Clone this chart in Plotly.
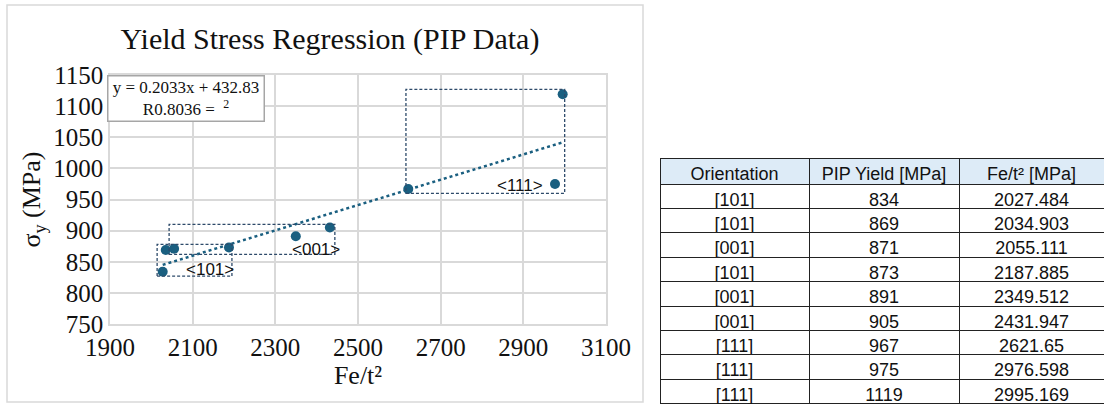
import plotly.graph_objects as go

# ---- data ----
orientation = ["[101]", "[101]", "[001]", "[101]", "[001]", "[001]", "[111]", "[111]", "[111]"]
pip_yield = [834, 869, 871, 873, 891, 905, 967, 975, 1119]
fe_t2 = [2027.484, 2034.903, 2055.111, 2187.885, 2349.512, 2431.947, 2621.65, 2976.598, 2995.169]
table_headers = ["Orientation", "PIP Yield [MPa]", "Fe/t² [MPa]"]

slope = 0.2033
intercept = 432.83
r2_text = "R0.8036 =  <sup>2</sup>"

group_names = ["&lt;101&gt;", "&lt;001&gt;", "&lt;111&gt;"]
group_x0 = [2014, 2043, 2616]
group_x1 = [2195, 2444, 3000]
group_y0 = [827, 862, 960]
group_y1 = [878, 910, 1127]
group_label_x = [2142, 2398, 2891]
group_label_y = [838, 870, 973]

x_ticks = [1900, 2100, 2300, 2500, 2700, 2900, 3100]
y_ticks = [750, 800, 850, 900, 950, 1000, 1050, 1100, 1150]

W, H = 1104, 404
MARK = "#1a5f80"
BOXC = "#2d4a6a"
GRID = "#d9d9d9"
SERIF = "Liberation Serif, Times New Roman, serif"
SANS = "Liberation Sans, Arial, sans-serif"

fig = go.Figure()

# trendline
tx = [min(fe_t2), max(fe_t2)]
ty = [slope * v + intercept for v in tx]
fig.add_trace(go.Scatter(x=tx, y=ty, mode="lines",
                         line=dict(color=MARK, width=2.5, dash="dot"),
                         hoverinfo="skip", showlegend=False))
# points
fig.add_trace(go.Scatter(x=fe_t2, y=pip_yield, mode="markers",
                         marker=dict(color=MARK, size=10),
                         showlegend=False))

# table
fig.add_trace(go.Table(
    domain=dict(x=[660 / W, 1.0], y=[0.0, 1 - 158 / H]),
    columnwidth=[149, 150, 145],
    header=dict(values=table_headers,
                fill_color="#ddebf7", line=dict(color="#222222", width=1),
                font=dict(family=SANS, size=18, color="#111111"),
                align="center", height=26),
    cells=dict(values=[orientation, pip_yield, fe_t2],
               fill_color="white", line=dict(color="#222222", width=1),
               font=dict(family=SANS, size=18, color="#111111"),
               align="center", height=24.4),
))

shapes = []
# outer chart frame
shapes.append(dict(type="rect", xref="paper", yref="paper",
                   x0=7 / W, x1=643 / W, y0=1 - 402 / H, y1=1 - 5 / H,
                   line=dict(color=GRID, width=1.5), layer="below"))
for x0, x1, y0, y1 in zip(group_x0, group_x1, group_y0, group_y1):
    shapes.append(dict(type="rect", xref="x", yref="y", x0=x0, x1=x1, y0=y0, y1=y1,
                       line=dict(color=BOXC, width=1.3, dash="3px,2px")))

annotations = []
for name, lx, ly in zip(group_names, group_label_x, group_label_y):
    annotations.append(dict(x=lx, y=ly, xref="x", yref="y", text=name, showarrow=False,
                            font=dict(family=SANS, size=17, color="#111111")))
annotations.append(dict(
    xref="paper", yref="paper", x=107 / W, y=1 - 75 / H, xanchor="left", yanchor="top",
    text=f"y = {slope}x + {intercept}<br>{r2_text}", showarrow=False,
    font=dict(family=SERIF, size=17, color="#111111"),
    bordercolor="#a6a6a6", borderwidth=1.5, borderpad=1, bgcolor="white",
    width=153, height=42, align="center"))

fig.update_layout(
    width=W, height=H,
    margin=dict(l=0, r=0, t=0, b=0),
    paper_bgcolor="white", plot_bgcolor="white",
    title=dict(text="Yield Stress Regression (PIP Data)", x=330 / W, y=1 - 38 / H,
               xanchor="center", yanchor="middle",
               font=dict(family=SERIF, size=30, color="#111111")),
    xaxis=dict(domain=[110 / W, 606 / W], range=[1900, 3100], tickvals=x_ticks,
               showgrid=True, gridcolor=GRID, gridwidth=1.5, zeroline=False,
               showline=True, linecolor=GRID, linewidth=1.5, mirror=True,
               ticks="", automargin=False,
               tickfont=dict(family=SERIF, size=25, color="#111111"),
               title=dict(text="Fe/t²", standoff=2,
                          font=dict(family=SERIF, size=26, color="#111111"))),
    yaxis=dict(domain=[1 - 324 / H, 1 - 75 / H], range=[750, 1150], tickvals=y_ticks,
               showgrid=True, gridcolor=GRID, gridwidth=1.5, zeroline=False,
               showline=True, linecolor=GRID, linewidth=1.5, mirror=True,
               ticks="", automargin=False,
               tickfont=dict(family=SERIF, size=25, color="#111111"),
               title=dict(text="σ<sub>y</sub> (MPa)", standoff=5,
                          font=dict(family=SERIF, size=26, color="#111111"))),
    shapes=shapes, annotations=annotations, showlegend=False,
)

fig.write_html("out.html", config={"displayModeBar": False},
               post_script="document.body.style.margin='0';document.body.style.overflow='hidden';")
